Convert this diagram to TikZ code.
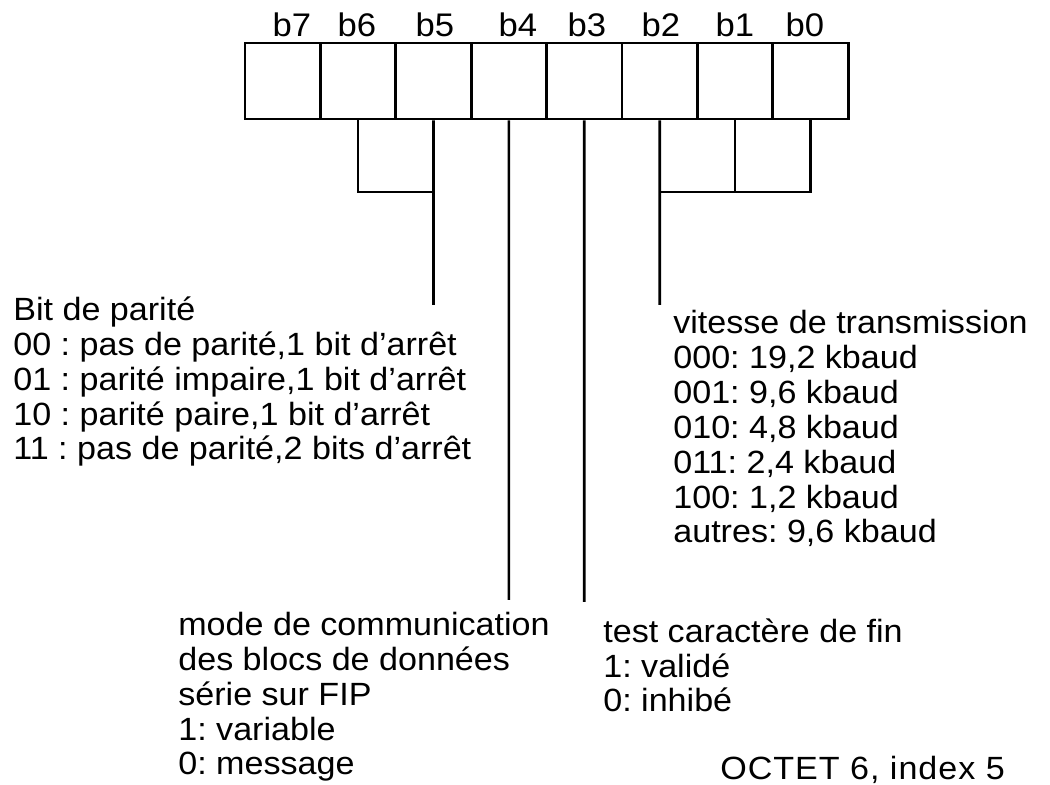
\documentclass[tikz,border=0pt]{standalone}
\usepackage{fontspec}
\setmainfont{Liberation Sans}[FakeStretch=1.06]
\usepackage{tikz}
\frenchspacing
\tikzset{
  cell/.style={draw,line width=1.6pt,rectangle,minimum width=1.508cm,minimum height=1.52cm,inner sep=0pt},
  wire/.style={line width=1.5pt},
  txt/.style={anchor=base west,align=left,inner sep=0pt,font=\fontsize{18.3}{19.9}\selectfont},
  bitlab/.style={anchor=base,inner sep=0pt,font=\fontsize{18.6}{19.9}\selectfont}
}

\begin{document}
\begin{tikzpicture}[x=1cm,y=1cm]
\path[use as bounding box] (0,0) rectangle (21.00,15.70);
% register cells b7..b0
\foreach \b/\lx in {0/16.10,1/14.70,2/13.22,3/11.74,4/10.36,5/8.70,6/7.14,7/5.84}{
  \node[cell] (c\b) at (16.210-\b*1.508,14.08) {};
  \node[bitlab] (l\b) at (\lx,14.96) {b\b};
}
\coordinate (brk) at (0,11.86);
\coordinate (par) at (8.670,9.60);
\coordinate (vit) at (13.194,9.60);
\coordinate (mode) at (10.178,3.70);
\coordinate (fin) at (11.686,3.66);
% bit groups
\draw[wire] (c6.south) -- (c6.south |- brk) -- (c5.south |- brk);
\draw[wire] (c5.south) -- (par);
\draw[wire] (c4.south) -- (mode);
\draw[wire] (c3.south) -- (fin);
\draw[wire] (c1.south) -- (c1.south |- brk);
\draw[wire] (c0.south) -- (c0.south |- brk) -- (c2.south |- brk);
\draw[wire] (c2.south) -- (vit);
% descriptions (anchored on last line)
\node[txt] (tpar) at (0.26,6.50) {Bit de parité\\00 : pas de parité,1 bit d’arrêt\\01 : parité impaire,1 bit d’arrêt\\10 : parité paire,1 bit d’arrêt\\11 : pas de parité,2 bits d’arrêt};
\node[txt] (tvit) at (13.46,4.84) {vitesse de transmission\\000: 19,2 kbaud\\001: 9,6 kbaud\\010: 4,8 kbaud\\011: 2,4 kbaud\\100: 1,2 kbaud\\autres: 9,6 kbaud};
\node[txt] (tmode) at (3.56,0.20) {mode de communication\\des blocs de données\\série sur FIP\\1: variable\\0: message};
\node[txt] (tfin) at (12.06,1.46) {test caractère de fin\\1: validé\\0: inhibé};
\node[txt,font=\fontsize{18.3}{19.9}\selectfont\addfontfeature{LetterSpace=3}] (toct) at (14.40,0.10) {OCTET 6, index 5};
\end{tikzpicture}
\end{document}
